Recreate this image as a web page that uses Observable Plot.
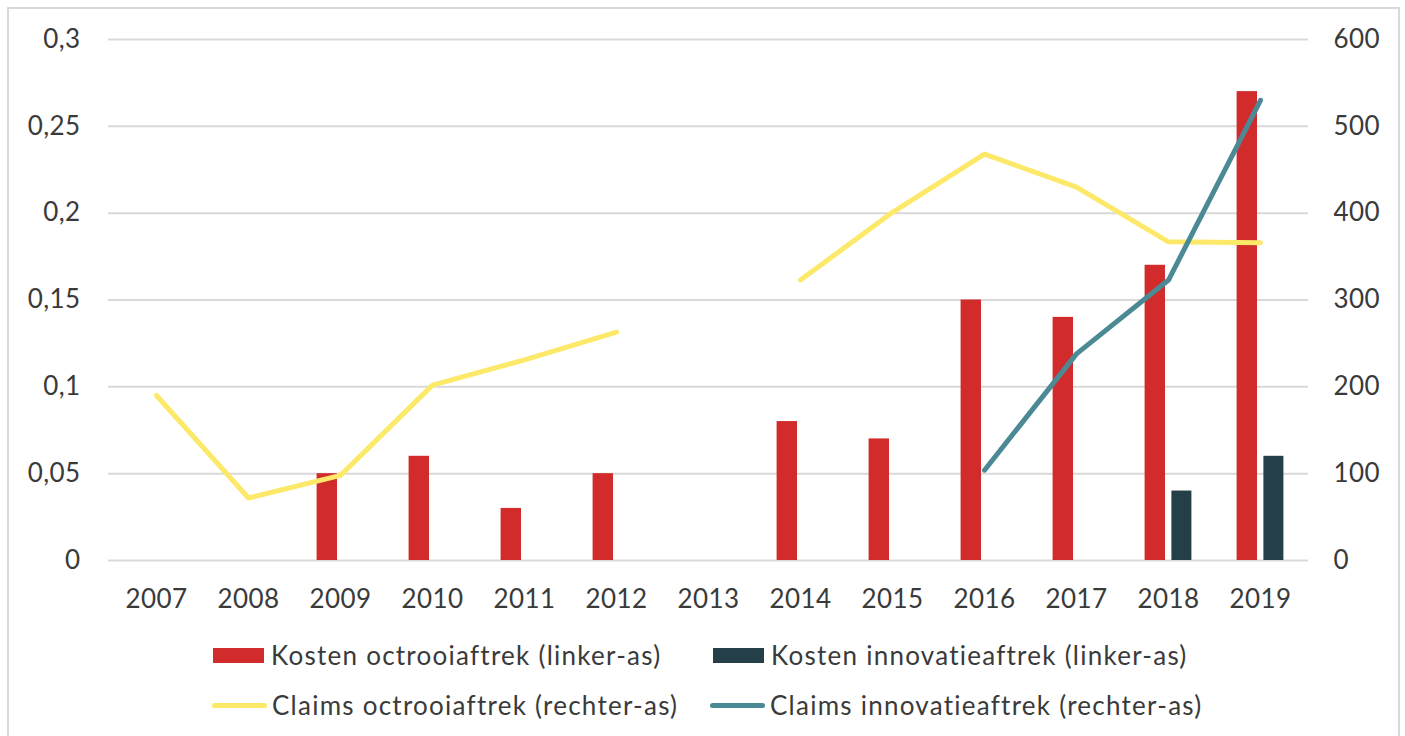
<!DOCTYPE html>
<html>
<head>
<meta charset="utf-8">
<script src="https://cdn.jsdelivr.net/npm/d3@7"></script>
<script src="https://cdn.jsdelivr.net/npm/@observablehq/plot@0.6"></script>
<style>
  html, body { margin: 0; padding: 0; background: #fff; overflow: hidden; }
  #wrap { position: relative; width: 1405px; height: 736px; font-family: Lato, sans-serif; color: #3a3a3a; }
  #frame { position: absolute; left: 7px; top: 7px; width: 1389px; height: 800px; border: 2px solid #d9d9d9; pointer-events: none; }
  #chart { position: absolute; left: 0; top: 0; }
  #chart svg text { letter-spacing: 0.4px; }
  .leg { position: absolute; display: flex; align-items: center; font-size: 26px; letter-spacing: 1.25px; white-space: nowrap; height: 30px; }
  .sw { display: inline-block; margin-right: 7px; }
</style>
</head>
<body>
<div id="wrap">
  <div id="chart"></div>
  <div id="legend"></div>
  <div id="frame"></div>
</div>
<script>
const years = ["2007","2008","2009","2010","2011","2012","2013","2014","2015","2016","2017","2018","2019"];
const kostenOctrooi   = [null, null, 0.05, 0.06, 0.03, 0.05, null, 0.08, 0.07, 0.15, 0.14, 0.17, 0.27];
const kostenInnovatie = [null, null, null, null, null, null, null, null, null, null, null, 0.04, 0.06];
const claimsOctrooi   = [190, 72, 98, 202, 231, 263, null, 323, 401, 468, 430, 367, 366];
const claimsInnovatie = [null, null, null, null, null, null, null, null, null, 104, 238, 323, 530];
const leftTicks  = [0, 0.05, 0.1, 0.15, 0.2, 0.25, 0.3];
const rightTicks = [0, 100, 200, 300, 400, 500, 600];
const seriesNames = [
  "Kosten octrooiaftrek (linker-as)",
  "Kosten innovatieaftrek (linker-as)",
  "Claims octrooiaftrek (rechter-as)",
  "Claims innovatieaftrek (rechter-as)"
];
const colors = ["#d22b2b", "#243f47", "#fce96a", "#4b8a95"];

const ratio = rightTicks[rightTicks.length - 1] / leftTicks[leftTicks.length - 1]; // right axis / left axis

const rows = years.map((y, i) => ({
  year: y,
  ko: kostenOctrooi[i],
  ki: kostenInnovatie[i],
  co: claimsOctrooi[i] == null ? NaN : claimsOctrooi[i] / ratio,
  ci: claimsInnovatie[i] == null ? NaN : claimsInnovatie[i] / ratio
}));

const chart = Plot.plot({
  width: 1405,
  height: 620,
  marginTop: 39,
  marginBottom: 60,
  marginLeft: 108,
  marginRight: 97,
  style: { fontFamily: "Lato, sans-serif", fontSize: "26px", color: "#3a3a3a", background: "transparent" },
  x: { type: "band", domain: years, padding: 0 },
  y: { domain: [0, 0.3] },
  marks: [
    Plot.ruleY(leftTicks, { stroke: "#d9d9d9", strokeWidth: 2 }),
    Plot.barY(rows.filter(d => d.ko != null), { x: "year", y: "ko", fill: colors[0], insetLeft: 22.6, insetRight: 49 }),
    Plot.barY(rows.filter(d => d.ki != null), { x: "year", y: "ki", fill: colors[1], insetLeft: 49.4, insetRight: 22.6 }),
    Plot.lineY(rows, { x: "year", y: "co", stroke: colors[2], strokeWidth: 5, strokeLinecap: "round", strokeLinejoin: "round" }),
    Plot.lineY(rows, { x: "year", y: "ci", stroke: colors[3], strokeWidth: 5, strokeLinecap: "round", strokeLinejoin: "round" }),
    Plot.axisY(leftTicks, { anchor: "left", tickSize: 0, tickPadding: 28, label: null, tickFormat: d => String(d).replace(".", ",") }),
    Plot.axisY(rightTicks.map(v => v / ratio), { anchor: "right", tickSize: 0, tickPadding: 25, label: null, tickFormat: d => String(Math.round(d * ratio)) }),
    Plot.axisX({ anchor: "bottom", tickSize: 0, tickPadding: 29, label: null })
  ]
});
document.getElementById("chart").appendChild(chart);

// Legend (HTML, below the SVG)
const legend = document.getElementById("legend");
const legendItems = [
  { name: seriesNames[0], color: colors[0], kind: "rect", left: 213, top: 640 },
  { name: seriesNames[1], color: colors[1], kind: "rect", left: 713, top: 640 },
  { name: seriesNames[2], color: colors[2], kind: "line", left: 212, top: 690 },
  { name: seriesNames[3], color: colors[3], kind: "line", left: 710, top: 690 }
];
legendItems.forEach(it => {
  const div = document.createElement("div");
  div.className = "leg";
  div.style.left = it.left + "px";
  div.style.top = it.top + "px";
  const sw = document.createElement("span");
  sw.className = "sw";
  if (it.kind === "rect") {
    sw.style.width = "51px"; sw.style.height = "15px"; sw.style.background = it.color;
  } else {
    sw.style.width = "55px"; sw.style.height = "5px"; sw.style.background = it.color; sw.style.borderRadius = "3px";
    sw.style.marginRight = "5px";
  }
  const tx = document.createElement("span");
  tx.textContent = it.name;
  div.appendChild(sw);
  div.appendChild(tx);
  legend.appendChild(div);
});
</script>
</body>
</html>
